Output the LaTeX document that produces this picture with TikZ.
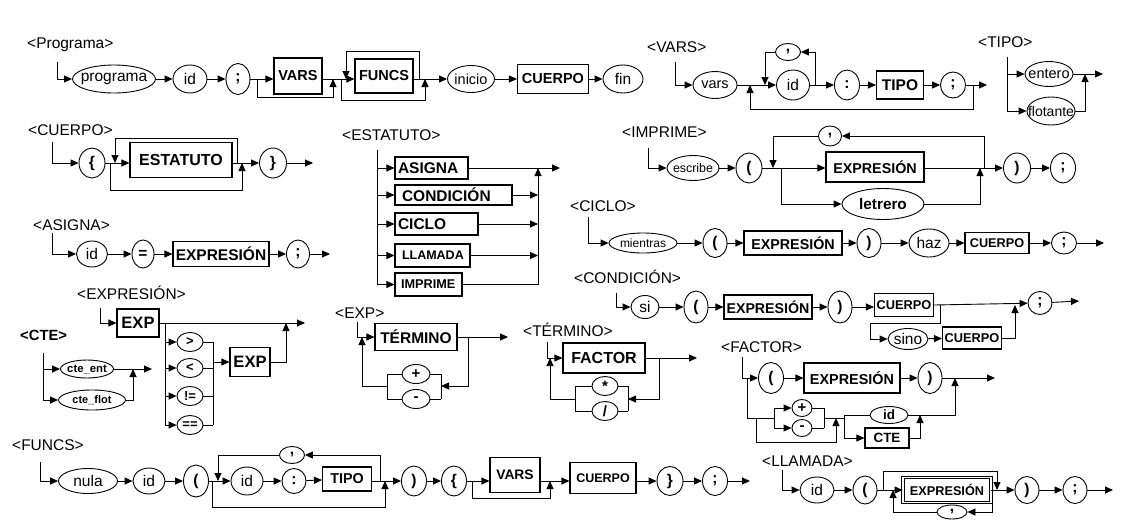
\documentclass[tikz,border=0pt]{standalone}
\usepackage{fontspec}
\setmainfont{Liberation Sans}
\usetikzlibrary{shapes.geometric,arrows.meta}
\newcommand\fsz[1]{\fontsize{#1}{#1}\selectfont}
\newcommand\tx[1]{\makebox[0pt]{#1}}
\begin{document}
\begin{tikzpicture}[x=1pt,y=-1pt,
  ln/.style={line width=0.9pt},
  ar/.style={line width=0.9pt,-{Triangle[length=8pt,width=7pt]}},
  E/.style 2 args={ellipse,draw,line width=0.9pt,inner sep=0pt,minimum width=#1,minimum height=#2,font=\fsz{15.5}},
  B/.style 2 args={rectangle,draw,line width=1.1pt,inner sep=0pt,minimum width=#1,minimum height=#2,font=\bfseries\fsz{15.5}},
  lab/.style={anchor=west,inner sep=0pt,font=\fsz{15.5}},
  sym/.style={font=\bfseries\fsz{15.5}}
]
\fill[white] (0,0) rectangle (1130,528);
\useasboundingbox (0,0) rectangle (1130,528);

% ---------------- <Programa>
\node[lab] (Lprog) at (27,45) {<Programa>};
\node[E={83}{28}] (pg1) at (114,79) {\tx{programa}};
\node[E={34}{28}] (pg2) at (190,79) {\tx{id}};
\node[E={24}{31},sym] (pg3) at (238,79) {\tx{;}};
\node[B={48}{36},font=\bfseries\fsz{14.5}] (pg4) at (298,76) {VARS};
\node[B={58}{34},font=\bfseries\fsz{14.5}] (pg5) at (384,76) {FUNCS};
\node[E={47}{27},font=\fsz{14.5}] (pg6) at (471,79) {\tx{inicio}};
\node[B={71}{29},font=\bfseries\fsz{14.5}] (pg7) at (553,79) {CUERPO};
\node[E={40}{28}] (pg8) at (623,79) {\tx{fin}};
\coordinate (pgS) at (57,62);
\coordinate (pgA) at (257,79);
\coordinate (pgB) at (333,79);
\coordinate (pgC) at (341,79);
\coordinate (pgD) at (346,79);
\coordinate (pgE) at (419,79);
\coordinate (pgF) at (425,79);
\draw[ar] (pgS) |- (pg1);
\draw[ar] (pg1) -- (pg2);
\draw[ar] (pg2) -- (pg3);
\draw[ln] (pg3) -- (pgA);
\draw[ar] (pgA) -- (pgA -| pg4.west);
\draw[ar] (pgA) -- ++(0,18) -| (pgB);
\draw[ln] (pgB -| pg4.east) -- (pgB);
\draw[ar] (pgB) -- (pgB -| pg5.west);
\draw[ar] (pgE) -- ++(0,-28) -| (pgD);
\draw[ar] (pgC) -- ++(0,21) -| (pgF);
\draw[ln] (pgE -| pg5.east) -- (pgE);
\draw[ar] (pgE) -- (pg6);
\draw[ar] (pg6) -- (pg7);
\draw[ar] (pg7) -- (pg8);

% ---------------- <VARS>
\node[lab] (Lvars) at (647,47) {<VARS>};
\node[E={44}{27},font=\fsz{14.5}] (v1) at (715,85) {\tx{vars}};
\node[E={33}{30}] (v2) at (793,85) {\tx{id}};
\node[E={25}{17},sym] (v3) at (788,52) {\tx{,}};
\node[E={25}{30},sym] (v4) at (847,85) {\tx{:}};
\node[B={47}{28}] (v5) at (900,85) {TIPO};
\node[E={25}{26},sym] (v6) at (953,85) {\tx{;}};
\coordinate (vS) at (675,62);
\coordinate (vA) at (750,85);
\coordinate (vB) at (765,85);
\coordinate (vC) at (815,85);
\coordinate (vD) at (973,85);
\coordinate (vE) at (987,85);
\draw[ar] (vS) |- (v1);
\draw[ln] (v1) -- (vA);
\draw[ar] (vA) -- (v2);
\draw[ar] (v2) -- (v4);
\draw[ar] (vC) |- (v3);
\draw[ar] (v3) -| (vB);
\draw[ar] (v4) -- (v5);
\draw[ar] (v5) -- (v6);
\draw[ar] (v6) -- (vE);
\draw[ar] (vD) -- ++(0,24) -| (vA);

% ---------------- <TIPO>
\node[lab] (Ltipo) at (978,42) {<TIPO>};
\node[E={48}{25},font=\fsz{14.5}] (t1) at (1049,74) {\tx{entero}};
\node[E={48}{28},font=\fsz{14}] (t2) at (1051,111) {\tx{flotante}};
\coordinate (tS) at (1007,57);
\coordinate (tJ) at (1085,74);
\coordinate (tE) at (1103,74);
\draw[ar] (tS) |- (t1);
\draw[ar] (tS) |- (t2);
\draw[ar] (t1) -- (tE);
\draw[ar] (t2) -| (tJ);

% ---------------- <CUERPO>
\node[lab] (Lcue) at (28,130) {<CUERPO>};
\node[E={26}{30},sym] (c1) at (92,163) {\tx{\{}};
\node[B={102}{35},font=\bfseries\fsz{16}] (c2) at (181,160) {ESTATUTO};
\node[E={27}{30},sym] (c3) at (273,163) {\tx{\}}};
\coordinate (cS) at (52,142);
\coordinate (cA) at (110,163);
\coordinate (cB) at (115,163);
\coordinate (cC) at (237,163);
\coordinate (cD) at (242,163);
\coordinate (cE) at (313,163);
\draw[ar] (cS) |- (c1);
\draw[ar] (c1) -- (c1 -| c2.west);
\draw[ar] (cA) -- ++(0,27) -| (cD);
\draw[ar] (cC) -- ++(0,-25) -| (cB);
\draw[ln] (cC -| c2.east) -- (cD);
\draw[ar] (cD) -- (c3);
\draw[ar] (c3) -- (cE);

% ---------------- <ASIGNA>
\node[lab] (Lasg) at (33,225) {<ASIGNA>};
\node[E={31}{26}] (a1) at (92,254) {\tx{id}};
\node[E={22}{28},sym] (a2) at (143,254) {\tx{=}};
\node[B={96}{25}] (a3) at (221,254) {EXPRESIÓN};
\node[E={23}{28},sym] (a4) at (298,254) {\tx{;}};
\coordinate (aS) at (52,233);
\coordinate (aE) at (330,254);
\draw[ar] (aS) |- (a1);
\draw[ar] (a1) -- (a2);
\draw[ar] (a2) -- (a3);
\draw[ar] (a3) -- (a4);
\draw[ar] (a4) -- (aE);

% ---------------- <ESTATUTO>
\node[lab] (Lest) at (342,135) {<ESTATUTO>};
\node[B={73}{22},text width=67pt,align=left] (e1) at (431.5,168) {ASIGNA};
\node[B={117}{20},text width=103pt,align=left] (e2) at (453.5,195) {CONDICIÓN};
\node[B={83}{22},text width=77pt,align=left] (e3) at (436.5,224) {CICLO};
\node[B={75}{23},text width=61pt,align=left,font=\bfseries\fsz{12.5}] (e4) at (432.5,255.5) {LLAMADA};
\node[B={67}{23},text width=55pt,align=left,font=\bfseries\fsz{12.7}] (e5) at (428.5,284.5) {IMPRIME};
\coordinate (eS) at (377,150);
\coordinate (eB) at (377,284.5);
\coordinate (eJ) at (538,168);
\coordinate (eX) at (560,168);
\draw[ln] (eS) -- (eB);
\draw[ar] (eS |- e1) -- (e1);
\draw[ar] (eS |- e2) -- (e2);
\draw[ar] (eS |- e3) -- (e3);
\draw[ar] (eS |- e4) -- (e4);
\draw[ar] (eB) -- (e5);
\draw[ar] (e1) -- (eX);
\draw[ar] (e2) -- (e2 -| eJ);
\draw[ar] (e3) -- (e3 -| eJ);
\draw[ar] (e4) -- (e4 -| eJ);
\draw[ar] (e5) -| (eJ);

% ---------------- <IMPRIME>
\node[lab] (Limp) at (622,132) {<IMPRIME>};
\node[E={52}{25},font=\fsz{12.4}] (i1) at (693,168) {\tx{escribe}};
\node[E={26}{30},sym] (i2) at (749,168) {\tx{(}};
\node[B={98}{30},font=\bfseries\fsz{14.3}] (i3) at (875,167) {EXPRESIÓN};
\node[E={82}{31},font=\bfseries\fsz{15.3}] (i4) at (883,204) {\tx{letrero}};
\node[E={23}{20},sym] (i5) at (830,136) {\tx{,}};
\node[E={27}{30},sym] (i6) at (1017,168) {\tx{)}};
\node[E={25}{30},sym] (i7) at (1063,168) {\tx{;}};
\coordinate (iS) at (648,148);
\coordinate (iA) at (773,168);
\coordinate (iB) at (781,168);
\coordinate (iC) at (980,168);
\coordinate (iD) at (984,168);
\draw[ar] (iS) |- (i1);
\draw[ar] (i1) -- (i2);
\draw[ar] (i2) -- (i2 -| i3.west);
\draw[ar] (iB) |- (i4);
\draw[ar] (iD) |- (i5);
\draw[ar] (i5) -| (iA);
\draw[ar] (i4) -| (iC);
\draw[ar] (i2 -| i3.east) -- (i6);
\draw[ar] (i6) -- (i7);

% ---------------- <CICLO>
\node[lab] (Lcic) at (570,206) {<CICLO>};
\node[E={68}{20},font=\fsz{12}] (k1) at (643,243) {\tx{mientras}};
\node[E={24}{29},sym] (k2) at (715,243) {\tx{(}};
\node[B={98}{24},font=\bfseries\fsz{14.3}] (k3) at (793,243) {EXPRESIÓN};
\node[E={24}{29},sym] (k4) at (869,243) {\tx{)}};
\node[E={40}{28}] (k5) at (929,243) {\tx{haz}};
\node[B={64}{21},font=\bfseries\fsz{12.7}] (k6) at (997,243) {CUERPO};
\node[E={25}{22},sym] (k7) at (1064,243) {\tx{;}};
\coordinate (kS) at (588,217);
\coordinate (kE) at (1104,243);
\draw[ar] (kS) |- (k1);
\draw[ar] (k1) -- (k2);
\draw[ar] (k2) -- (k3);
\draw[ar] (k3) -- (k4);
\draw[ar] (k4) -- (k5);
\draw[ar] (k5) -- (k6);
\draw[ar] (k6) -- (k7);
\draw[ar] (k7) -- (kE);

% ---------------- <CONDICIÓN>
\node[lab] (Lcon) at (574,277) {<CONDICIÓN>};
\node[E={28}{23}] (d1) at (645,307) {\tx{si}};
\node[E={24}{32},sym] (d2) at (696,307) {\tx{(}};
\node[B={88}{24},font=\bfseries\fsz{14.2}] (d3) at (768,307) {EXPRESIÓN};
\node[E={24}{32},sym] (d4) at (840,307) {\tx{)}};
\node[B={59}{23},font=\bfseries\fsz{12.8}] (d5) at (904,305) {CUERPO};
\node[E={40}{21}] (d6) at (908,339) {\tx{sino}};
\node[B={59}{22},font=\bfseries\fsz{12.8}] (d7) at (972,338) {CUERPO};
\node[E={24}{23},sym] (d8) at (1040,303) {\tx{;}};
\coordinate (dS) at (616,293);
\coordinate (dA) at (940,305);
\coordinate (dB) at (1015,305);
\coordinate (dE) at (1079,301);
\draw[ar] (dS) |- (d1);
\draw[ar] (d1) -- (d2);
\draw[ar] (d2) -- (d3);
\draw[ar] (d3) -- (d4);
\draw[ar] (d4) -- (d4 -| d5.west);
\draw[ar] (d5.east) -- (d8);
\draw[ar] (dA) -- ++(0,18) -- ++(-70,0) |- (d6);
\draw[ar] (d6) -- (d7);
\draw[ar] (d7) -| (dB);
\draw[ar] (d8) -- (dE);

% ---------------- <EXPRESIÓN>
\node[lab] (Lexpr) at (77,293) {<EXPRESIÓN>};
\node[B={42}{28},font=\bfseries\fsz{16.5}] (x1) at (138,323) {EXP};
\node[E={26}{19},font=\bfseries\fsz{13}] (x2) at (190,342) {\tx{>}};
\node[E={26}{19},font=\bfseries\fsz{13}] (x3) at (190,368) {\tx{<}};
\node[E={26}{19},font=\bfseries\fsz{13}] (x4) at (190,396) {\tx{!=}};
\node[E={26}{19},font=\bfseries\fsz{13}] (x5) at (190,425) {\tx{==}};
\node[B={40}{29},font=\bfseries\fsz{16.5}] (x6) at (250,362) {EXP};
\coordinate (xS) at (100,308);
\coordinate (xA) at (165,323);
\coordinate (xB) at (213,342);
\coordinate (xC) at (213,425);
\coordinate (xD) at (213,362);
\coordinate (xE) at (286,323);
\coordinate (xF) at (305,323);
\draw[ar] (xS) |- (x1);
\draw[ar] (x1) -- (xF);
\draw[ln] (xA) -- (xA |- x5);
\draw[ar] (xA |- x2) -- (x2);
\draw[ar] (xA |- x3) -- (x3);
\draw[ar] (xA |- x4) -- (x4);
\draw[ar] (xA |- x5) -- (x5);
\draw[ln] (x2) -| (xC);
\draw[ln] (x3) -- (x3 -| xB);
\draw[ln] (x4) -- (x4 -| xB);
\draw[ln] (x5) -- (xC);
\draw[ar] (xD) -- (x6);
\draw[ar] (x6) -| (xE);

% ---------------- <CTE>
\node[lab,font=\bfseries\fsz{14.8}] (Lcte) at (20,335) {<CTE>};
\node[E={53}{18},font=\bfseries\fsz{11.3}] (q1) at (87,369) {\tx{cte\_ent}};
\node[E={67}{20},font=\bfseries\fsz{11}] (q2) at (92,400) {\tx{cte\_flot}};
\coordinate (qS) at (43,353);
\coordinate (qA) at (133,369);
\coordinate (qE) at (152,369);
\draw[ar] (qS) |- (q1);
\draw[ar] (qS) |- (q2);
\draw[ar] (q1) -- (qE);
\draw[ar] (q2) -| (qA);

% ---------------- <EXP>
\node[lab] (Lexp) at (335,313) {<EXP>};
\node[B={82}{27}] (r1) at (416,337) {TÉRMINO};
\node[E={28}{19},font=\bfseries\fsz{15}] (r2) at (416,374) {\tx{+}};
\node[E={28}{19},font=\bfseries\fsz{15}] (r3) at (416,399) {\tx{-}};
\coordinate (rS) at (357,322);
\coordinate (rA) at (362,337);
\coordinate (rB) at (468,337);
\coordinate (rC) at (441,386);
\coordinate (rD) at (387,386);
\coordinate (rE) at (508,337);
\coordinate (rF) at (441,399);
\coordinate (rG) at (387,399);
\draw[ar] (rS) |- (r1);
\draw[ar] (r1) -- (rE);
\draw[ar] (rB) |- (rC);
\draw[ln] (r2) -| (rF);
\draw[ln] (r3) -- (rF);
\draw[ln] (r2) -| (rG);
\draw[ln] (r3) -- (rG);
\draw[ar] (rD) -| (rA);

% ---------------- <TÉRMINO>
\node[lab] (Lter) at (523,330) {<TÉRMINO>};
\node[B={82}{30},font=\bfseries\fsz{16}] (s1) at (604,358) {FACTOR};
\node[E={26}{19},font=\bfseries\fsz{15}] (s2) at (605,386) {\tx{*}};
\node[E={26}{19},font=\bfseries\fsz{15}] (s3) at (605,411) {\tx{/}};
\coordinate (sS) at (547,342);
\coordinate (sA) at (550,358);
\coordinate (sB) at (659,358);
\coordinate (sC) at (628,399);
\coordinate (sD) at (575,399);
\coordinate (sE) at (697,358);
\coordinate (sF) at (628,411);
\coordinate (sG) at (575,411);
\draw[ar] (sS) |- (s1);
\draw[ar] (s1) -- (sE);
\draw[ar] (sB) |- (sC);
\draw[ln] (s2) -| (sF);
\draw[ln] (s3) -- (sF);
\draw[ln] (s2) -| (sG);
\draw[ln] (s3) -- (sG);
\draw[ar] (sD) -| (sA);

% ---------------- <FACTOR>
\node[lab] (Lfac) at (721,347) {<FACTOR>};
\node[E={25}{31},sym] (f1) at (771,378) {\tx{(}};
\node[B={96}{30},font=\bfseries\fsz{14.4}] (f2) at (852,378) {EXPRESIÓN};
\node[E={24}{31},sym] (f3) at (930,378) {\tx{)}};
\node[E={20}{17},font=\bfseries\fsz{15}] (f4) at (802,408) {\tx{+}};
\node[E={20}{17},font=\bfseries\fsz{15}] (f5) at (802,428) {\tx{-}};
\node[E={38}{17},font=\bfseries\fsz{13.5}] (f6) at (889,415) {\tx{id}};
\node[B={44}{20},font=\bfseries\fsz{13.4}] (f7) at (887,438) {CTE};
\coordinate (fS) at (742,357);
\coordinate (fA) at (747,378);
\coordinate (fB) at (747,418);
\coordinate (fC) at (756,418);
\coordinate (fQ) at (774,418);
\coordinate (fD) at (774,408);
\coordinate (fE) at (774,428);
\coordinate (fG) at (824,428);
\coordinate (fH) at (824,418);
\coordinate (fI) at (836,418);
\coordinate (fJ) at (844,418);
\coordinate (fK) at (844,415);
\coordinate (fL) at (844,438);
\coordinate (fN) at (955,378);
\coordinate (fO) at (920,415);
\coordinate (fX) at (995,378);
\draw[ar] (fS) |- (f1);
\draw[ar] (f1) -- (f2);
\draw[ar] (f2) -- (f3);
\draw[ar] (f3) -- (fX);
\draw[ln] (fA) -- (fB) -- (fQ);
\draw[ln] (fD) -- (fE);
\draw[ar] (fD) -- (f4);
\draw[ar] (fE) -- (f5);
\draw[ln] (f4) -| (fG);
\draw[ln] (f5) -- (fG);
\draw[ln] (fH) -- (fJ);
\draw[ar] (fC) -- ++(0,24) -| (fI);
\draw[ln] (fK) -- (fL);
\draw[ln] (fK) -- (f6);
\draw[ar] (fL) -- (f7);
\draw[ar] (f6) -| (fN);
\draw[ar] (f7) -| (fO);

% ---------------- <FUNCS>
\node[lab] (Lfun) at (12,445) {<FUNCS>};
\node[E={59}{25}] (g1) at (88,481) {\tx{nula}};
\node[E={32}{26}] (g2) at (149,481) {\tx{id}};
\node[E={25}{32},sym] (g3) at (196,481) {\tx{(}};
\node[E={32}{28}] (g4) at (247,481) {\tx{id}};
\node[E={25}{17},sym] (g5) at (292,455) {\tx{,}};
\node[E={24}{25},sym] (g6) at (294,481) {\tx{:}};
\node[B={49}{24},font=\bfseries\fsz{14.3}] (g7) at (347,479) {TIPO};
\node[E={25}{30},sym] (g8) at (414,481) {\tx{)}};
\node[E={25}{30},sym] (g9) at (454,481) {\tx{\{}};
\node[B={50}{35},font=\bfseries\fsz{13.8}] (g10) at (515,475) {VARS};
\node[B={66}{31},font=\bfseries\fsz{12.5}] (g11) at (603,478) {CUERPO};
\node[E={26}{29},sym] (g12) at (670,481) {\tx{\}}};
\node[E={25}{29},sym] (g13) at (715,481) {\tx{;}};
\coordinate (gS) at (40,462);
\coordinate (gA) at (212,481);
\coordinate (gB) at (218,481);
\coordinate (gC) at (380,481);
\coordinate (gD) at (385,481);
\coordinate (gE) at (472,481);
\coordinate (gF) at (550,481);
\coordinate (gX) at (750,481);
\draw[ar] (gS) |- (g1);
\draw[ar] (g1) -- (g2);
\draw[ar] (g2) -- (g3);
\draw[ln] (g3) -- (gA);
\draw[ar] (gA) -- (g4);
\draw[ar] (g4) -- (g6);
\draw[ar] (g6) -- (g7);
\draw[ar] (g7.east |- gC) -- (g8);
\draw[ar] (gC) |- (g5);
\draw[ar] (g5) -| (gB);
\draw[ar] (gA) -- ++(0,26) -| (gD);
\draw[ar] (g8) -- (g9);
\draw[ln] (g9) -- (gE);
\draw[ar] (gE) -- (gE -| g10.west);
\draw[ar] (gE) -- ++(0,17) -| (gF);
\draw[ln] (gE -| g10.east) -- (gF);
\draw[ar] (gF) -- (gF -| g11.west);
\draw[ar] (gF -| g11.east) -- (g12);
\draw[ar] (g12) -- (g13);
\draw[ar] (g13) -- (gX);

% ---------------- <LLAMADA>
\node[lab] (Lllam) at (762,461) {<LLAMADA>};
\node[E={34}{26}] (h1) at (817,490) {\tx{id}};
\node[E={24}{28},sym] (h2) at (865,490) {\tx{(}};
\node[B={88}{25},font=\bfseries\fsz{12.7},double,double distance=1.5pt,line width=0.8pt] (h3) at (947,490) {EXPRESIÓN};
\node[E={30}{14},sym] (h4) at (952,512) {\tx{,}};
\node[E={24}{27},sym] (h5) at (1027,490) {\tx{)}};
\node[E={24}{27},sym] (h6) at (1075,490) {\tx{;}};
\coordinate (hS) at (782,470);
\coordinate (hA) at (883,490);
\coordinate (hB) at (893,490);
\coordinate (hC) at (992,490);
\coordinate (hD) at (997,490);
\coordinate (hX) at (1113,490);
\draw[ar] (hS) |- (h1);
\draw[ar] (h1) -- (h2);
\draw[ln] (h2) -- (hA);
\draw[ar] (hA) -- (h3);
\draw[ar] (hA) -- ++(0,-19) -| (hD);
\draw[ar] (h3) -- (h5);
\draw[ar] (hC) |- (h4);
\draw[ar] (h4) -| (hB);
\draw[ar] (h5) -- (h6);
\draw[ar] (h6) -- (hX);
\end{tikzpicture}
\end{document}
